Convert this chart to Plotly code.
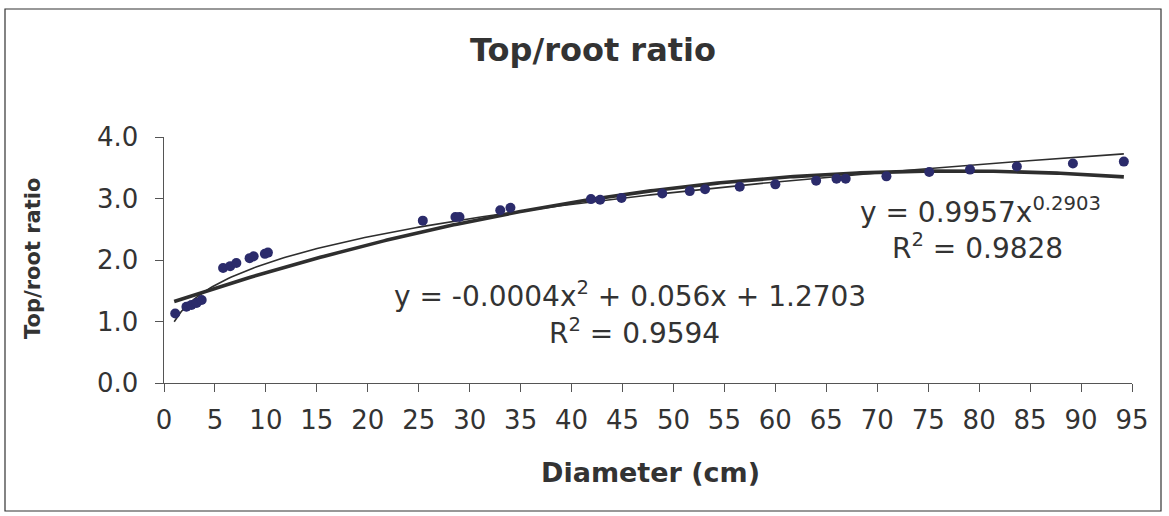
import numpy as np
import plotly.graph_objects as go

# ---- data ----
diameter = [1.1, 2.2, 2.7, 3.2, 3.7, 5.8, 6.5, 7.1, 8.4, 8.8, 9.9, 10.2,
            25.4, 28.6, 29.0, 33.0, 34.0, 41.9, 42.8, 44.9, 48.9, 51.6,
            53.1, 56.5, 60.0, 64.0, 66.0, 66.9, 70.9, 75.1, 79.1, 83.7,
            89.2, 94.2]
ratio = [1.13, 1.24, 1.27, 1.30, 1.35, 1.87, 1.90, 1.95, 2.03, 2.06, 2.10, 2.12,
         2.64, 2.70, 2.70, 2.81, 2.85, 2.99, 2.98, 3.01, 3.08, 3.12,
         3.15, 3.19, 3.23, 3.29, 3.32, 3.32, 3.36, 3.43, 3.47, 3.52,
         3.57, 3.60]

x_ticks = list(range(0, 100, 5))
y_ticks = [0, 1, 2, 3, 4]
y_tick_labels = ["0.0", "1.0", "2.0", "3.0", "4.0"]

# trendline equations shown on the chart (quadratic term is displayed rounded
# to -0.0004; the drawn curve corresponds to about -0.00036)
power_coef = (0.9957, 0.2903)
poly_coef = [-0.00036, 0.056, 1.2703]
trend_x_range = (1.0, 94.2)

power_label = "y = 0.9957x<sup>0.2903</sup>"
power_r2 = "R<sup>2</sup> = 0.9828"
poly_label = "y = -0.0004x<sup>2</sup> + 0.056x + 1.2703"
poly_r2 = "R<sup>2</sup> = 0.9594"

xs = np.linspace(trend_x_range[0], trend_x_range[1], 300)
y_poly = np.polyval(poly_coef, xs)
y_pow = power_coef[0] * xs ** power_coef[1]

W, H = 1169, 516
L, R, T, B = 164, 1132, 137, 383
TXT = "#333333"
FONT = "DejaVu Sans"


def px(xp):
    return (xp - L) / (R - L)


def py(yp):
    return (B - yp) / (B - T)


fig = go.Figure()
fig.add_trace(go.Scatter(x=xs, y=y_pow, mode="lines",
                         line=dict(color="#2e2e2e", width=1.6),
                         showlegend=False, hoverinfo="skip"))
fig.add_trace(go.Scatter(x=xs, y=y_poly, mode="lines",
                         line=dict(color="#2e2e2e", width=3.6),
                         showlegend=False, hoverinfo="skip"))
fig.add_trace(go.Scatter(x=diameter, y=ratio, mode="markers",
                         marker=dict(color="#2b2b6b", size=10),
                         showlegend=False))

axis_common = dict(showline=True, linecolor="#555555", linewidth=1.2,
                   ticks="outside", ticklen=8, tickcolor="#555555",
                   tickwidth=1.2, showgrid=False, zeroline=False,
                   tickfont=dict(family=FONT, size=26, color=TXT))

fig.update_xaxes(range=[0, 95], tickvals=x_ticks,
                 ticktext=[str(v) for v in x_ticks],
                 ticklabelstandoff=6, **axis_common)
fig.update_yaxes(range=[0, 4], tickvals=y_ticks, showticklabels=False,
                 **axis_common)

annotations = [
    dict(text="<b>Top/root ratio</b>", x=px(593), y=py(50),
         font=dict(family=FONT, size=32, color=TXT)),
    dict(text="<b>Diameter (cm)</b>", x=px(650), y=py(472),
         font=dict(family=FONT, size=27, color=TXT)),
    dict(text="<b>Top/root ratio</b>", x=px(33), y=py(259), textangle=-90,
         font=dict(family=FONT, size=21, color=TXT)),
    dict(text=power_label, x=px(980), y=py(210),
         font=dict(family=FONT, size=28, color=TXT)),
    dict(text=power_r2, x=px(977), y=py(246),
         font=dict(family=FONT, size=28, color=TXT)),
    dict(text=poly_label, x=px(630), y=py(294),
         font=dict(family=FONT, size=28, color=TXT)),
    dict(text=poly_r2, x=px(634), y=py(331),
         font=dict(family=FONT, size=28, color=TXT)),
]
for a in annotations:
    a.update(xref="paper", yref="paper", showarrow=False,
             xanchor="center", yanchor="middle")

# y tick labels positioned on the y axis scale
for v, lab in zip(y_ticks, y_tick_labels):
    annotations.append(dict(text=lab, x=px(140), y=v, xref="paper", yref="y",
                            xanchor="right", yanchor="middle", showarrow=False,
                            font=dict(family=FONT, size=26, color=TXT)))

fig.update_layout(
    width=W, height=H,
    margin=dict(l=L, r=W - R, t=T, b=H - B),
    paper_bgcolor="white", plot_bgcolor="white",
    annotations=annotations,
    shapes=[dict(type="rect", xref="paper", yref="paper",
                 x0=px(5), x1=px(1161), y0=py(511), y1=py(9),
                 line=dict(color="#333333", width=1.2), layer="below")],
)

fig.write_html("out.html")
